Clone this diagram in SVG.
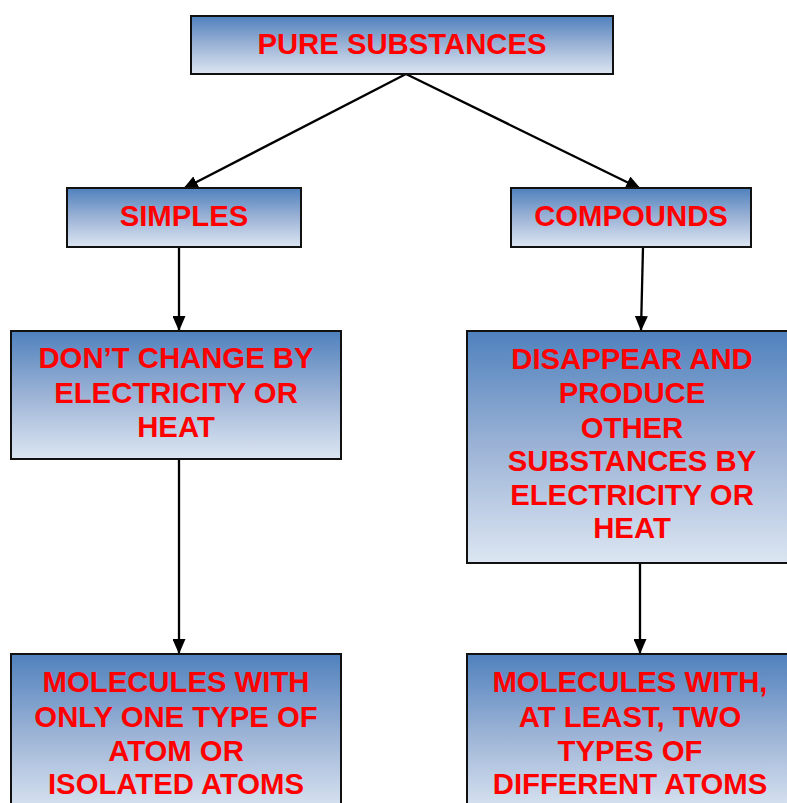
<svg xmlns="http://www.w3.org/2000/svg" width="787" height="803" viewBox="0 0 787 803">
<style>
.box{fill:url(#g);stroke:#111;stroke-width:2}
.t{font-family:"Liberation Sans",Arial,sans-serif;font-weight:bold;font-size:29.3px;fill:#ff0000;text-anchor:middle}
.c{stroke:#000;stroke-width:2.3;fill:none;marker-end:url(#a)}
</style>
<defs>
<linearGradient id="g" x1="0" y1="0" x2="0" y2="1">
<stop offset="0" stop-color="#4f81bd"/>
<stop offset="0.5" stop-color="#9cb3d6"/>
<stop offset="1" stop-color="#dce6f2"/>
</linearGradient>
<marker id="a" markerWidth="15" markerHeight="13" refX="15" refY="6.5" orient="auto" markerUnits="userSpaceOnUse">
<path d="M0,0 L15,6.5 L0,13 Z" fill="#000"/>
</marker>
</defs>
<g id="connectors">
<path class="c" d="M406,74 L183,189"/>
<path class="c" d="M406,74 L641,189"/>
<path class="c" d="M179,247 L179,331"/>
<path class="c" d="M643,247 L641,331"/>
<path class="c" d="M179,459 L179,654"/>
<path class="c" d="M640,563 L640,654"/>
</g>
<g id="pure">
<rect class="box" x="191" y="16" width="422" height="58"/>
<text class="t" x="402" y="54">PURE SUBSTANCES</text>
</g>
<g id="simples">
<rect class="box" x="67" y="188" width="234" height="59"/>
<text class="t" x="184" y="226">SIMPLES</text>
</g>
<g id="compounds">
<rect class="box" x="511" y="188" width="240" height="59"/>
<text class="t" x="631" y="226">COMPOUNDS</text>
</g>
<g id="dontchange">
<rect class="box" x="11" y="331" width="330" height="128"/>
<text class="t" x="176" y="368">DON’T CHANGE BY</text>
<text class="t" x="176" y="403">ELECTRICITY OR</text>
<text class="t" x="176" y="437">HEAT</text>
</g>
<g id="disappear">
<rect class="box" x="467" y="331" width="330" height="232"/>
<text class="t" x="632" y="369">DISAPPEAR AND</text>
<text class="t" x="632" y="403">PRODUCE</text>
<text class="t" x="632" y="438">OTHER</text>
<text class="t" x="632" y="471">SUBSTANCES BY</text>
<text class="t" x="632" y="505">ELECTRICITY OR</text>
<text class="t" x="632" y="538">HEAT</text>
</g>
<g id="molecules1">
<rect class="box" x="11" y="654" width="330" height="160"/>
<text class="t" x="176" y="692">MOLECULES WITH</text>
<text class="t" x="176" y="727">ONLY ONE TYPE OF</text>
<text class="t" x="176" y="761">ATOM OR</text>
<text class="t" x="176" y="794">ISOLATED ATOMS</text>
</g>
<g id="molecules2">
<rect class="box" x="467" y="654" width="330" height="160"/>
<text class="t" x="630" y="692">MOLECULES WITH,</text>
<text class="t" x="630" y="727">AT LEAST, TWO</text>
<text class="t" x="630" y="761">TYPES OF</text>
<text class="t" x="630" y="794">DIFFERENT ATOMS</text>
</g>
</svg>
